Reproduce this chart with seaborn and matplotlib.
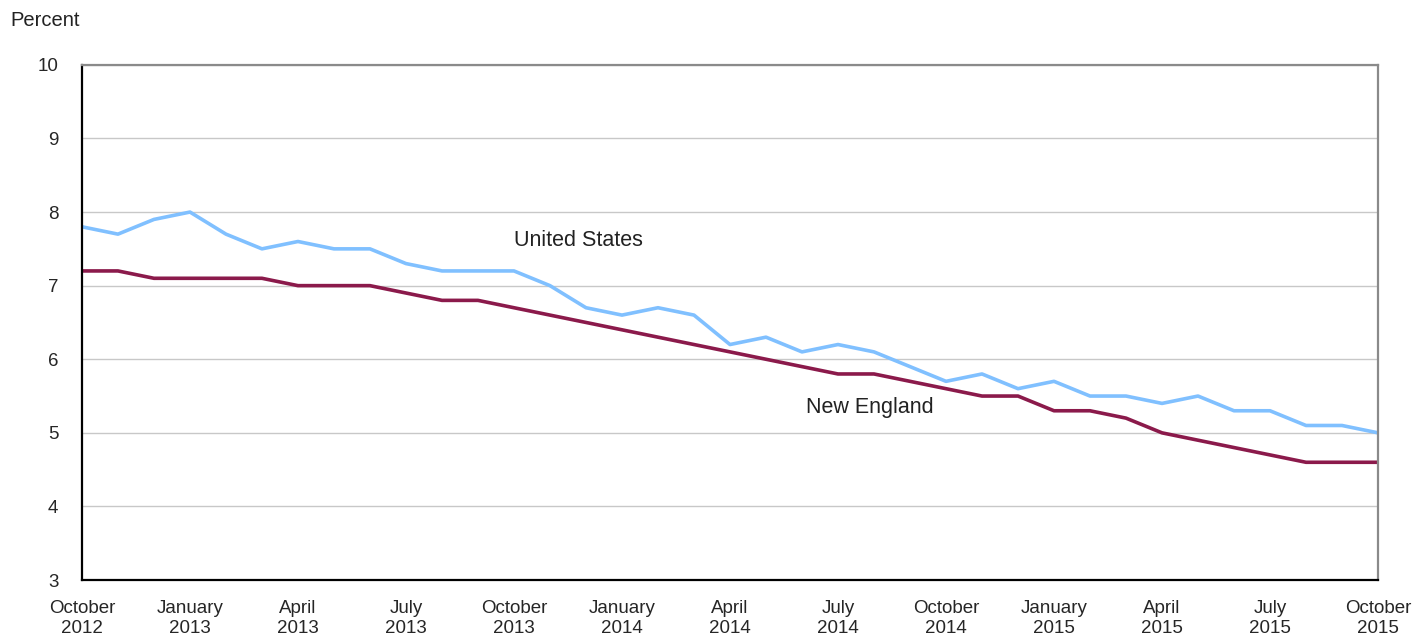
import matplotlib
matplotlib.use("Agg")
import matplotlib.pyplot as plt
import pandas as pd
import seaborn as sns

months = ["October\n2012", "November\n2012", "December\n2012",
          "January\n2013", "February\n2013", "March\n2013",
          "April\n2013", "May\n2013", "June\n2013",
          "July\n2013", "August\n2013", "September\n2013",
          "October\n2013", "November\n2013", "December\n2013",
          "January\n2014", "February\n2014", "March\n2014",
          "April\n2014", "May\n2014", "June\n2014",
          "July\n2014", "August\n2014", "September\n2014",
          "October\n2014", "November\n2014", "December\n2014",
          "January\n2015", "February\n2015", "March\n2015",
          "April\n2015", "May\n2015", "June\n2015",
          "July\n2015", "August\n2015", "September\n2015",
          "October\n2015"]

us = [7.8, 7.7, 7.9, 8.0, 7.7, 7.5, 7.6, 7.5, 7.5, 7.3, 7.2, 7.2,
      7.2, 7.0, 6.7, 6.6, 6.7, 6.6, 6.2, 6.3, 6.1, 6.2, 6.1, 5.9,
      5.7, 5.8, 5.6, 5.7, 5.5, 5.5, 5.4, 5.5, 5.3, 5.3, 5.1, 5.1, 5.0]

new_england = [7.2, 7.2, 7.1, 7.1, 7.1, 7.1, 7.0, 7.0, 7.0, 6.9, 6.8, 6.8,
               6.7, 6.6, 6.5, 6.4, 6.3, 6.2, 6.1, 6.0, 5.9, 5.8, 5.8, 5.7,
               5.6, 5.5, 5.5, 5.3, 5.3, 5.2, 5.0, 4.9, 4.8, 4.7, 4.6, 4.6, 4.6]

yticks = [3, 4, 5, 6, 7, 8, 9, 10]

n = len(months)
df = pd.DataFrame({
    "month": list(range(n)) * 2,
    "rate": us + new_england,
    "area": ["United States"] * n + ["New England"] * n,
})

sns.set_style("white")
plt.rcParams["font.family"] = ["Liberation Sans", "DejaVu Sans"]

fig = plt.figure(figsize=(14.18, 6.36), dpi=100)
ax = fig.add_axes([0.0578, 0.088, 0.914, 0.81])

sns.lineplot(data=df, x="month", y="rate", hue="area",
             palette={"United States": "#80c0ff", "New England": "#8b1a4b"},
             linewidth=2.6, legend=False, ax=ax)

ax.set_xlim(0, n - 1)
ax.set_ylim(3, 10)
ax.set_yticks(yticks)
ax.set_yticklabels([str(v) for v in yticks], fontsize=13.5)
ax.set_xticks(range(0, n, 3))
ax.set_xticklabels([months[i] for i in range(0, n, 3)], fontsize=13.5,
                   linespacing=1.25)
ax.tick_params(axis="x", direction="inout", length=11, width=1.2,
               color="black", pad=9)
ax.tick_params(axis="y", length=0, pad=17)
ax.set_xlabel("")
ax.set_ylabel("")

ax.yaxis.grid(True, color="#c8c8c8", linewidth=1)
ax.set_axisbelow(True)

for s in ["left", "bottom"]:
    ax.spines[s].set_color("black")
    ax.spines[s].set_linewidth(1.6)
for s in ["top", "right"]:
    ax.spines[s].set_color("#8a8a8a")
    ax.spines[s].set_linewidth(1.6)

ax.text(12.0, 7.62, "United States", fontsize=15.5, va="center", ha="left",
        color="#222222")
ax.text(20.1, 5.35, "New England", fontsize=15.5, va="center", ha="left",
        color="#222222")

fig.text(10 / 1418, 1 - 20 / 636, "Percent", fontsize=14.5, va="center",
         ha="left", color="#222222")

fig.savefig("out.png", dpi=100)
